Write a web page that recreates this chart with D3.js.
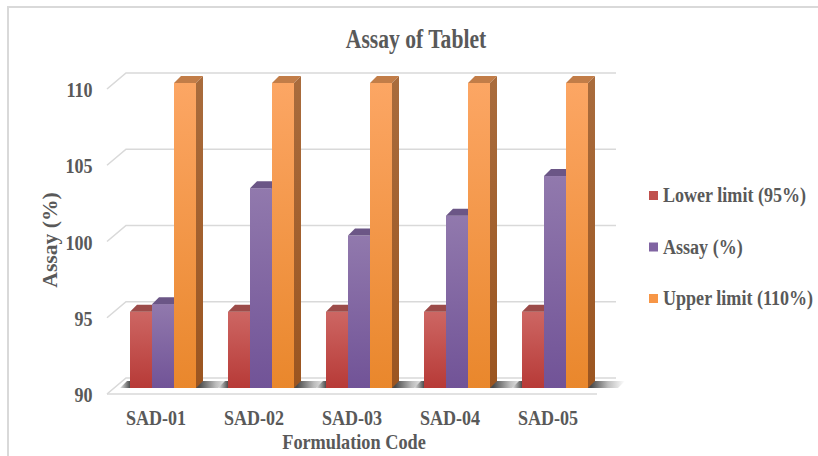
<!DOCTYPE html>
<html>
<head>
<meta charset="utf-8">
<script src="https://cdn.jsdelivr.net/npm/d3@7"></script>
<style>
  html, body { margin: 0; padding: 0; background: #fff; }
  svg { display: block; }
  text { font-family: "Liberation Serif", "Times New Roman", serif; font-weight: bold; fill: #595959; }
</style>
</head>
<body>
<svg id="chart" width="818" height="456"></svg>
<script>
// ---- data ----
const categories = ["SAD-01", "SAD-02", "SAD-03", "SAD-04", "SAD-05"];
const seriesNames = ["Lower limit (95%)", "Assay (%)", "Upper limit (110%)"];
const lowerLimit = [95, 95, 95, 95, 95];
const assay = [95.5, 103.1, 100.0, 101.3, 103.9];
const upperLimit = [110, 110, 110, 110, 110];
const yTicks = [90, 95, 100, 105, 110];
const chartTitle = "Assay of Tablet";
const xTitle = "Formulation Code";
const yTitle = "Assay (%)";

const seriesValues = [lowerLimit, assay, upperLimit];

// face colours per series: front gradient (top, bottom), top face, side gradient (top, bottom)
const palette = [
  { key: "red",    legend: "#c0504d", front: ["#cd6663", "#b73a37"], top: "#9c4b49", side: ["#8e3e3b", "#7c2f2c"] },
  { key: "purple", legend: "#8064a2", front: ["#9179ad", "#715397"], top: "#6b5686", side: ["#5e4877", "#503c68"] },
  { key: "orange", legend: "#f79646", front: ["#fca664", "#e9872c"], top: "#c27d48", side: ["#a96c3d", "#9b5520"] }
];

const svg = d3.select("#chart");
const defs = svg.append("defs");

// ---- geometry ----
const x0 = d3.scaleBand().domain(categories).range([107, 597])
  .paddingInner(32 / 98).paddingOuter(16 / 98);
const x1 = d3.scaleBand().domain(seriesNames).range([0, x0.bandwidth()]);
const y = d3.scaleLinear().domain([90, 110]).range([394, 89]);

const wall = { dx: 19, dy: -16 };   // back wall offset from the front plane
const barOff = { dx: 7, dy: -6 };   // bar front face offset
const depth = { dx: 7, dy: -7 };    // bar depth

// chart frame
svg.append("rect").attr("x", 8).attr("y", 7).attr("width", 830).attr("height", 470)
  .attr("fill", "none").attr("stroke", "#d9d9d9").attr("stroke-width", 2);

// gradients
palette.forEach(p => {
  const gf = defs.append("linearGradient").attr("id", "front-" + p.key)
    .attr("x1", 0).attr("y1", 0).attr("x2", 0).attr("y2", 1);
  gf.append("stop").attr("offset", 0).attr("stop-color", p.front[0]);
  gf.append("stop").attr("offset", 1).attr("stop-color", p.front[1]);
  const gs = defs.append("linearGradient").attr("id", "side-" + p.key)
    .attr("x1", 0).attr("y1", 0).attr("x2", 0).attr("y2", 1);
  gs.append("stop").attr("offset", 0).attr("stop-color", p.side[0]);
  gs.append("stop").attr("offset", 1).attr("stop-color", p.side[1]);
});
const sh = defs.append("linearGradient").attr("id", "floor-shadow")
  .attr("x1", 0).attr("y1", 0).attr("x2", 1).attr("y2", 0);
[[0, "#e6e6e6"], [0.1, "#3a3a3a"], [0.2, "#555"], [0.62, "#555"], [0.7, "#4a4a4a"], [0.85, "#bdbdbd"], [1, "#ffffff"]]
  .forEach(([o, c]) => sh.append("stop").attr("offset", o).attr("stop-color", c));

// ---- gridlines (back wall + side diagonal) ----
const xl = x0.range()[0], xr = x0.range()[1];
const grid = svg.append("g").attr("fill", "none").attr("stroke", "#d9d9d9").attr("stroke-width", 1.6);
grid.selectAll("path.gl").data(yTicks).join("path").attr("class", "gl")
  .attr("d", t => `M${xl},${y(t)}L${xl + wall.dx},${y(t) + wall.dy}L${xr + wall.dx},${y(t) + wall.dy}`);
// floor front edge
grid.append("path").attr("d", `M${xl},${y(90)}L${xr},${y(90)}`);

// ---- floor shadows ----
const baseY = y(90) + barOff.dy;
svg.append("g").selectAll("path").data(categories).join("path")
  .attr("fill", "url(#floor-shadow)")
  .attr("d", c => {
    const a = x0(c) + barOff.dx - 10, b = x0(c) + barOff.dx + x0.bandwidth() + 30;
    return `M${a},${baseY}L${b},${baseY}L${b + depth.dx},${baseY + depth.dy}L${a + depth.dx},${baseY + depth.dy}Z`;
  });

// ---- 3D bars ----
const bars = [];
categories.forEach((c, i) => {
  seriesNames.forEach((s, j) => {
    bars.push({ cat: c, series: s, j, value: seriesValues[j][i] });
  });
});

const barG = svg.append("g").selectAll("g").data(bars).join("g");
barG.each(function (d) {
  const g = d3.select(this);
  const p = palette[d.j];
  const xa = x0(d.cat) + x1(d.series) + barOff.dx;
  const xb = xa + x1.bandwidth();
  const yt = y(d.value) + barOff.dy;
  const yb = y(90) + barOff.dy;
  // front face
  g.append("rect").attr("x", xa).attr("y", yt).attr("width", xb - xa).attr("height", yb - yt)
    .attr("fill", `url(#front-${p.key})`);
  // top face
  g.append("path").attr("fill", p.top)
    .attr("d", `M${xa},${yt}L${xb},${yt}L${xb + depth.dx},${yt + depth.dy}L${xa + depth.dx},${yt + depth.dy}Z`);
  // right side face
  g.append("path").attr("fill", `url(#side-${p.key})`)
    .attr("d", `M${xb},${yt}L${xb + depth.dx},${yt + depth.dy}L${xb + depth.dx},${yb + depth.dy}L${xb},${yb}Z`);
});

// ---- axes ----
const yAxis = svg.append("g").attr("transform", "translate(95,0)")
  .call(d3.axisLeft(y).tickValues(yTicks).tickSize(0).tickPadding(3).tickFormat(d3.format("d")));
yAxis.select(".domain").remove();
yAxis.selectAll("text").attr("font-size", 22).attr("dy", "0.35em")
  .attr("transform", "scale(0.82,1)")
  .style("font-family", "'Liberation Serif','Times New Roman',serif").style("font-weight", "bold")
  .attr("fill", "#595959");

const xAxis = svg.append("g").attr("transform", "translate(0,425)")
  .call(d3.axisBottom(x0).tickSize(0).tickPadding(0));
xAxis.select(".domain").remove();
xAxis.selectAll("text").attr("font-size", 21).attr("y", 0).attr("dy", 0)
  .attr("transform", "scale(0.86,1)")
  .style("font-family", "'Liberation Serif','Times New Roman',serif").style("font-weight", "bold")
  .attr("fill", "#595959");

// ---- titles ----
svg.append("text").attr("transform", "translate(416,48) scale(0.8,1)")
  .attr("text-anchor", "middle").attr("font-size", 27).text(chartTitle);
svg.append("text").attr("transform", "translate(354,449) scale(0.87,1)")
  .attr("text-anchor", "middle").attr("font-size", 21).text(xTitle);
svg.append("text").attr("transform", "translate(57,240) rotate(-90) scale(1.08,1)")
  .attr("text-anchor", "middle").attr("font-size", 20).text(yTitle);

// ---- legend ----
const legend = svg.append("g").selectAll("g").data(seriesNames).join("g")
  .attr("transform", (d, i) => `translate(649,${202 + i * 51.5})`);
legend.append("rect").attr("x", 0).attr("y", -11).attr("width", 9).attr("height", 9)
  .attr("fill", (d, i) => palette[i].legend);
legend.append("text").attr("transform", "translate(14,0) scale(0.86,1)")
  .attr("font-size", 21).text(d => d);
</script>
</body>
</html>
